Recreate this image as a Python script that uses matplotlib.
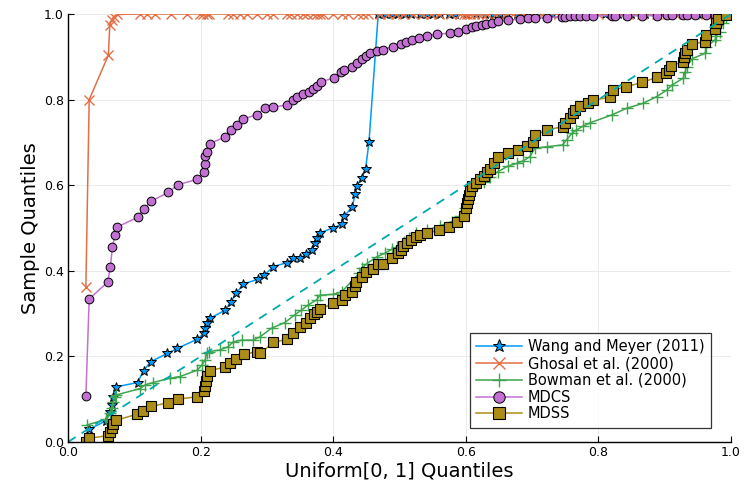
import matplotlib
matplotlib.use('Agg')
import matplotlib.pyplot as plt

# データ
wang_x = [0.032, 0.058, 0.063, 0.066, 0.068, 0.073, 0.105, 0.114, 0.125, 0.150, 0.165,
          0.195, 0.205, 0.207, 0.209, 0.214, 0.237, 0.246, 0.254, 0.264, 0.286, 0.296,
          0.310, 0.330, 0.340, 0.350, 0.359, 0.368, 0.372, 0.375, 0.380, 0.400, 0.413,
          0.417, 0.429, 0.433, 0.436, 0.443, 0.449, 0.454,
          0.468, 0.478, 0.488, 0.498, 0.508, 0.518, 0.531, 0.541, 0.551, 0.561, 0.574,
          0.584, 0.601, 0.616, 0.629, 0.641, 0.652, 0.662, 0.677, 0.687, 0.697, 0.707,
          0.719, 0.730, 0.750, 0.770, 0.790, 0.810, 0.830, 0.850, 0.870, 0.890, 0.910,
          0.930, 0.950, 0.970, 0.985]
wang_y = [0.030, 0.050, 0.071, 0.086, 0.106, 0.129, 0.139, 0.167, 0.188, 0.207, 0.219,
          0.240, 0.254, 0.266, 0.277, 0.289, 0.308, 0.328, 0.347, 0.369, 0.380, 0.390,
          0.410, 0.419, 0.429, 0.429, 0.439, 0.449, 0.464, 0.476, 0.489, 0.500, 0.509,
          0.528, 0.550, 0.579, 0.598, 0.618, 0.639, 0.701,
          1.0, 1.0, 1.0, 1.0, 1.0, 1.0, 1.0, 1.0, 1.0, 1.0, 1.0,
          1.0, 1.0, 1.0, 1.0, 1.0, 1.0, 1.0, 1.0, 1.0, 1.0, 1.0,
          1.0, 1.0, 1.0, 1.0, 1.0, 1.0, 1.0, 1.0, 1.0, 1.0, 1.0,
          1.0, 1.0, 1.0, 1.0]

ghosal_x = [0.027, 0.032, 0.061, 0.063, 0.066, 0.069, 0.074, 0.109, 0.119, 0.131, 0.156,
            0.179, 0.199, 0.204, 0.209, 0.212, 0.242, 0.249, 0.259, 0.270, 0.285, 0.300,
            0.310, 0.330, 0.337, 0.345, 0.355, 0.360, 0.370, 0.375, 0.380, 0.385, 0.400,
            0.413, 0.423, 0.438, 0.445, 0.453, 0.470, 0.483, 0.495, 0.505, 0.520, 0.535,
            0.548, 0.560, 0.578, 0.592, 0.597, 0.602, 0.607, 0.612, 0.618, 0.624, 0.632,
            0.645, 0.660, 0.672, 0.690, 0.702, 0.715, 0.740, 0.755, 0.775, 0.800, 0.822,
            0.845, 0.866, 0.888, 0.905, 0.915, 0.930, 0.945, 0.962, 0.978, 0.990]
ghosal_y = [0.363, 0.800, 0.904, 0.974, 0.986, 0.994, 0.999, 1.0, 1.0, 1.0, 1.0,
            1.0, 1.0, 1.0, 1.0, 1.0, 1.0, 1.0, 1.0, 1.0, 1.0, 1.0,
            1.0, 1.0, 1.0, 1.0, 1.0, 1.0, 1.0, 1.0, 1.0, 1.0, 1.0,
            1.0, 1.0, 1.0, 1.0, 1.0, 1.0, 1.0, 1.0, 1.0, 1.0, 1.0,
            1.0, 1.0, 1.0, 1.0, 1.0, 1.0, 1.0, 1.0, 1.0, 1.0, 1.0,
            1.0, 1.0, 1.0, 1.0, 1.0, 1.0, 1.0, 1.0, 1.0, 1.0, 1.0,
            1.0, 1.0, 1.0, 1.0, 1.0, 1.0, 1.0, 1.0, 1.0, 1.0]

bowman_x = [0.029, 0.058, 0.063, 0.066, 0.068, 0.071, 0.073, 0.109, 0.116, 0.128, 0.154,
            0.169, 0.195, 0.202, 0.207, 0.209, 0.212, 0.229, 0.242, 0.249, 0.262, 0.279,
            0.290, 0.307, 0.327, 0.342, 0.352, 0.362, 0.375, 0.380, 0.400, 0.413, 0.439,
            0.443, 0.451, 0.466, 0.478, 0.488, 0.496, 0.507, 0.515, 0.525, 0.541, 0.561,
            0.579, 0.591, 0.599, 0.604, 0.607, 0.611, 0.619, 0.627, 0.636, 0.649, 0.664,
            0.677, 0.687, 0.697, 0.704, 0.722, 0.746, 0.752, 0.760, 0.767, 0.777, 0.788,
            0.820, 0.843, 0.867, 0.888, 0.903, 0.911, 0.928, 0.931, 0.933, 0.942, 0.961,
            0.963, 0.976, 0.978, 0.983, 0.988, 0.993]
bowman_y = [0.040, 0.053, 0.067, 0.079, 0.094, 0.106, 0.110, 0.125, 0.133, 0.139, 0.149,
            0.153, 0.168, 0.180, 0.192, 0.207, 0.211, 0.215, 0.223, 0.234, 0.238, 0.238,
            0.246, 0.266, 0.279, 0.297, 0.308, 0.320, 0.332, 0.343, 0.345, 0.351, 0.394,
            0.406, 0.417, 0.433, 0.441, 0.450, 0.456, 0.468, 0.476, 0.489, 0.495, 0.505,
            0.515, 0.528, 0.546, 0.565, 0.581, 0.593, 0.604, 0.608, 0.620, 0.632, 0.645,
            0.651, 0.657, 0.667, 0.686, 0.690, 0.694, 0.706, 0.721, 0.729, 0.738, 0.746,
            0.764, 0.780, 0.791, 0.807, 0.822, 0.834, 0.850, 0.865, 0.877, 0.896, 0.908,
            0.924, 0.939, 0.949, 0.959, 0.978, 0.994]

mdcs_x = [0.027, 0.032, 0.060, 0.064, 0.067, 0.071, 0.074, 0.105, 0.114, 0.125, 0.151,
          0.166, 0.195, 0.205, 0.206, 0.207, 0.209, 0.214, 0.237, 0.246, 0.255, 0.264,
          0.285, 0.297, 0.310, 0.330, 0.339, 0.346, 0.355, 0.363, 0.369, 0.375, 0.381,
          0.401, 0.412, 0.417, 0.429, 0.436, 0.443, 0.449, 0.456, 0.466, 0.475, 0.490,
          0.502, 0.510, 0.519, 0.529, 0.541, 0.557, 0.576, 0.589, 0.600, 0.609, 0.616,
          0.624, 0.631, 0.639, 0.649, 0.664, 0.682, 0.694, 0.704, 0.722, 0.745, 0.750,
          0.757, 0.765, 0.772, 0.782, 0.792, 0.820, 0.825, 0.843, 0.866, 0.888, 0.903,
          0.911, 0.928, 0.933, 0.946, 0.963, 0.976, 0.981]
mdcs_y = [0.107, 0.334, 0.374, 0.410, 0.455, 0.484, 0.502, 0.525, 0.544, 0.562, 0.583,
          0.601, 0.614, 0.632, 0.650, 0.669, 0.678, 0.697, 0.713, 0.728, 0.741, 0.754,
          0.765, 0.780, 0.783, 0.787, 0.799, 0.805, 0.813, 0.818, 0.824, 0.832, 0.842,
          0.850, 0.864, 0.868, 0.876, 0.886, 0.894, 0.902, 0.910, 0.914, 0.917, 0.924,
          0.929, 0.935, 0.939, 0.943, 0.949, 0.953, 0.955, 0.959, 0.965, 0.969, 0.972,
          0.974, 0.976, 0.978, 0.984, 0.986, 0.988, 0.990, 0.991, 0.991, 0.994, 0.994,
          0.995, 0.995, 0.995, 0.996, 0.996, 0.996, 0.996, 0.996, 0.996, 0.996, 0.997,
          0.997, 0.997, 0.997, 0.997, 0.997, 0.998, 0.998]

mdss_x = [0.027, 0.032, 0.061, 0.063, 0.066, 0.068, 0.073, 0.104, 0.113, 0.125, 0.151,
          0.166, 0.195, 0.205, 0.207, 0.208, 0.209, 0.214, 0.237, 0.244, 0.254, 0.266,
          0.285, 0.290, 0.310, 0.330, 0.339, 0.350, 0.359, 0.365, 0.371, 0.376, 0.380,
          0.400, 0.413, 0.418, 0.429, 0.433, 0.435, 0.443, 0.450, 0.460, 0.467, 0.475,
          0.489, 0.498, 0.503, 0.506, 0.512, 0.518, 0.525, 0.531, 0.541, 0.559, 0.574,
          0.587, 0.597, 0.600, 0.602, 0.604, 0.605, 0.607, 0.610, 0.616, 0.621, 0.627,
          0.632, 0.637, 0.642, 0.649, 0.664, 0.679, 0.692, 0.702, 0.704, 0.723, 0.746,
          0.750, 0.757, 0.762, 0.765, 0.773, 0.785, 0.792, 0.817, 0.822, 0.842, 0.866,
          0.888, 0.902, 0.906, 0.910, 0.928, 0.929, 0.931, 0.934, 0.942, 0.961, 0.962,
          0.976, 0.978, 0.981, 0.992]
mdss_y = [0.000, 0.009, 0.015, 0.024, 0.032, 0.042, 0.051, 0.065, 0.072, 0.083, 0.092,
          0.100, 0.106, 0.119, 0.131, 0.143, 0.154, 0.167, 0.175, 0.185, 0.195, 0.205,
          0.211, 0.207, 0.233, 0.240, 0.254, 0.268, 0.279, 0.289, 0.299, 0.304, 0.310,
          0.324, 0.332, 0.343, 0.351, 0.364, 0.375, 0.386, 0.398, 0.404, 0.416, 0.416,
          0.431, 0.442, 0.449, 0.458, 0.466, 0.472, 0.480, 0.484, 0.488, 0.495, 0.502,
          0.513, 0.528, 0.546, 0.558, 0.567, 0.577, 0.587, 0.597, 0.606, 0.614, 0.621,
          0.630, 0.639, 0.653, 0.667, 0.676, 0.682, 0.692, 0.702, 0.717, 0.729, 0.737,
          0.745, 0.756, 0.768, 0.776, 0.785, 0.791, 0.799, 0.805, 0.822, 0.830, 0.840,
          0.852, 0.861, 0.869, 0.879, 0.889, 0.900, 0.908, 0.917, 0.930, 0.935, 0.951,
          0.966, 0.978, 0.988, 0.998]

ref_x = [0.0, 1.0]
ref_y = [0.0, 1.0]

# 描画
fig = plt.figure(figsize=(7.47, 4.98), dpi=100)
ax = fig.add_axes([0.091, 0.1124, 0.8875, 0.8595])

ax.plot(wang_x, wang_y, color='#009AFA', lw=1.1, marker='*', ms=7.5,
        mfc='#009AFA', mec='black', mew=0.7, label='Wang and Meyer (2011)')
ax.plot(ghosal_x, ghosal_y, color='#E36F47', lw=1.1, marker='x', ms=6.5,
        mew=1.0, label='Ghosal et al. (2000)')
ax.plot(bowman_x, bowman_y, color='#3EA44E', lw=1.1, marker='+', ms=8,
        mew=1.0, label='Bowman et al. (2000)')
ax.plot(mdcs_x, mdcs_y, color='#C271D2', lw=1.1, marker='o', ms=6.3,
        mfc='#C271D2', mec='black', mew=0.7, label='MDCS')
ax.plot(mdss_x, mdss_y, color='#AC8D18', lw=1.1, marker='s', ms=6.5,
        mfc='#AC8D18', mec='black', mew=0.8, label='MDSS')
ax.plot(ref_x, ref_y, color='#00A9AD', lw=1.3, ls=(0, (5, 4)))

ax.set_xlim(0, 1)
ax.set_ylim(0, 1)
ax.set_xticks([0.0, 0.2, 0.4, 0.6, 0.8, 1.0])
ax.set_yticks([0.0, 0.2, 0.4, 0.6, 0.8, 1.0])
ax.set_xticklabels(['0.0', '0.2', '0.4', '0.6', '0.8', '1.0'])
ax.set_yticklabels(['0.0', '0.2', '0.4', '0.6', '0.8', '1.0'])
ax.tick_params(direction='in', length=4, width=0.8, labelsize=9, pad=3)
ax.grid(True, color='#e8e8e8', lw=0.6)
ax.set_axisbelow(True)
for s in ['top', 'right']:
    ax.spines[s].set_visible(False)
for s in ['left', 'bottom']:
    ax.spines[s].set_linewidth(1.0)

ax.set_xlabel('Uniform[0, 1] Quantiles', fontsize=14, labelpad=2)
ax.set_ylabel('Sample Quantiles', fontsize=14, labelpad=3)

leg = ax.legend(loc='lower right', bbox_to_anchor=(0.952, 0.1406), bbox_transform=fig.transFigure,
                fontsize=10.5, frameon=True, fancybox=False, edgecolor='black',
                markerscale=1.3, handlelength=3.15, handletextpad=0.4,
                borderpad=0.45, labelspacing=0.12, borderaxespad=0)
leg.get_frame().set_linewidth(0.9)

fig.savefig('out.png', dpi=100)
